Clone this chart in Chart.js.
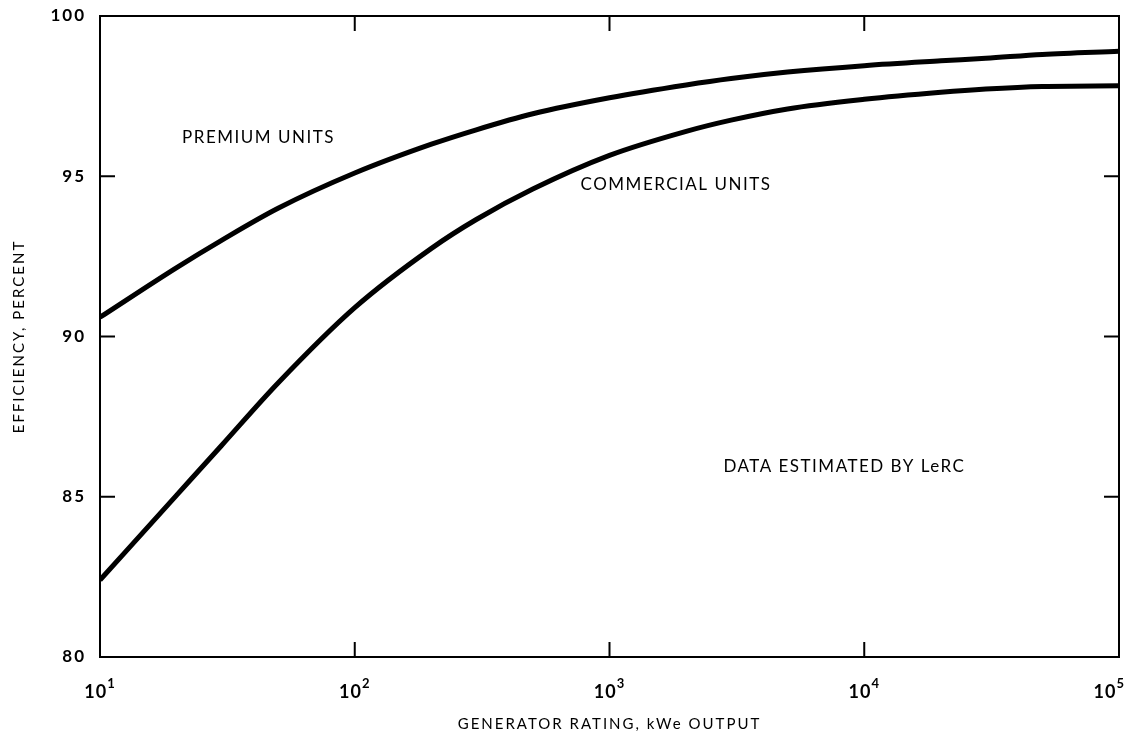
<!DOCTYPE html>
<html>
<head>
<meta charset="utf-8">
<script src="https://cdn.jsdelivr.net/npm/chart.js@4/dist/chart.umd.min.js"></script>
<style>
  html, body { margin: 0; padding: 0; background: #fff; }
  #wrap { width: 1127px; height: 741px; }
</style>
</head>
<body>
<div id="wrap"><canvas id="chart"></canvas></div>
<script>
const COLOR_BLACK = "#000";
const FONT_FAMILY = "Lato, 'DejaVu Sans', sans-serif";

// generator rating, kWe
const ratings = [10, 20, 30, 50, 100, 200, 300, 500, 1000, 2000, 3000, 5000, 10000, 20000, 30000, 50000, 100000];
// efficiency, percent
const premiumUnits = [90.6, 92.15, 93.0, 94.0, 95.1, 96.0, 96.45, 96.95, 97.45, 97.85, 98.05, 98.25, 98.45, 98.6, 98.68, 98.8, 98.9];
const commercialUnits = [82.4, 85.05, 86.6, 88.55, 90.9, 92.75, 93.65, 94.6, 95.65, 96.4, 96.75, 97.1, 97.4, 97.62, 97.72, 97.8, 97.82];

const xTicks = [10, 100, 1000, 10000, 100000];
const xTickExponents = ["1", "2", "3", "4", "5"];
const yTicks = [80, 85, 90, 95, 100];

const notes = [
  { text: "PREMIUM UNITS", x: 21, y: 96.22 },
  { text: "COMMERCIAL UNITS", x: 770, y: 94.73 },
  { text: "DATA ESTIMATED BY LeRC", x: 2800, y: 85.93 },
];

function toPoints(values) {
  return ratings.map((r, i) => ({ x: r, y: values[i] }));
}

// wide lettering like the original drawing
const spacing = {
  id: "spacing",
  beforeDraw(chart) {
    chart.ctx.letterSpacing = "2px";
  },
};

// frame with inward ticks on all four sides, x labels with exponents, curve labels
const frameTicks = {
  id: "frameTicks",
  afterDraw(chart) {
    const { ctx, chartArea: a, scales } = chart;
    const len = 15;
    ctx.save();
    ctx.strokeStyle = COLOR_BLACK;
    ctx.lineWidth = 2;
    ctx.strokeRect(a.left, a.top, a.right - a.left, a.bottom - a.top);
    ctx.beginPath();
    xTicks.forEach((v) => {
      const px = scales.x.getPixelForValue(v);
      ctx.moveTo(px, a.bottom); ctx.lineTo(px, a.bottom - len);
      ctx.moveTo(px, a.top); ctx.lineTo(px, a.top + len);
    });
    yTicks.forEach((v) => {
      const py = scales.y.getPixelForValue(v);
      ctx.moveTo(a.left, py); ctx.lineTo(a.left + len, py);
      ctx.moveTo(a.right, py); ctx.lineTo(a.right - len, py);
    });
    ctx.stroke();

    ctx.fillStyle = COLOR_BLACK;
    ctx.letterSpacing = "1px";
    ctx.textBaseline = "alphabetic";
    xTicks.forEach((v, i) => {
      const px = scales.x.getPixelForValue(v);
      ctx.font = "bold 18px " + FONT_FAMILY;
      const baseW = ctx.measureText("10").width;
      ctx.font = "bold 13px " + FONT_FAMILY;
      const expW = ctx.measureText(xTickExponents[i]).width;
      let left = px - (baseW + expW) / 2;
      left = Math.min(left, a.right + 6 - baseW - expW);
      ctx.textAlign = "left";
      ctx.font = "bold 18px " + FONT_FAMILY;
      ctx.fillText("10", left, a.bottom + 41);
      ctx.font = "bold 13px " + FONT_FAMILY;
      ctx.fillText(xTickExponents[i], left + baseW, a.bottom + 31);
    });

    ctx.letterSpacing = "1.5px";
    ctx.font = "17px " + FONT_FAMILY;
    ctx.textBaseline = "middle";
    ctx.textAlign = "left";
    notes.forEach((n) => {
      ctx.fillText(n.text, scales.x.getPixelForValue(n.x), scales.y.getPixelForValue(n.y));
    });
    ctx.restore();
  },
};

new Chart(document.getElementById("chart"), {
  type: "line",
  data: {
    datasets: [
      { label: "Premium units", data: toPoints(premiumUnits) },
      { label: "Commercial units", data: toPoints(commercialUnits) },
    ],
  },
  options: {
    responsive: true,
    maintainAspectRatio: false,
    animation: false,
    layout: { padding: { top: 16, right: 8, left: 0, bottom: 0 } },
    elements: {
      point: { radius: 0 },
      line: {
        borderColor: COLOR_BLACK,
        borderWidth: 5,
        cubicInterpolationMode: "monotone",
      },
    },
    scales: {
      x: {
        type: "logarithmic",
        min: 10,
        max: 100000,
        border: { display: false },
        grid: { display: false, drawTicks: false },
        afterBuildTicks(scale) {
          scale.ticks = xTicks.map((v) => ({ value: v }));
        },
        afterFit(scale) {
          scale.height = 84;
          scale.paddingLeft = 0;
          scale.paddingRight = 0;
        },
        ticks: { display: false },
        title: {
          display: true,
          text: "GENERATOR RATING, kWe OUTPUT",
          color: COLOR_BLACK,
          padding: { top: 8, bottom: 8 },
          font: { size: 15, family: FONT_FAMILY },
        },
      },
      y: {
        min: 80,
        max: 100,
        border: { display: false },
        grid: { display: false, drawTicks: false },
        afterBuildTicks(scale) {
          scale.ticks = yTicks.map((v) => ({ value: v }));
        },
        afterFit(scale) {
          scale.width = 100;
          scale.paddingTop = 0;
          scale.paddingBottom = 0;
        },
        ticks: {
          color: COLOR_BLACK,
          padding: 14,
          font: { size: 17, weight: "bold", family: FONT_FAMILY },
        },
        title: {
          display: true,
          text: "EFFICIENCY, PERCENT",
          color: COLOR_BLACK,
          padding: { top: 10, bottom: 0 },
          font: { size: 15, family: FONT_FAMILY },
        },
      },
    },
    plugins: {
      legend: { display: false },
      tooltip: { enabled: false },
    },
  },
  plugins: [spacing, frameTicks],
});
</script>
</body>
</html>
